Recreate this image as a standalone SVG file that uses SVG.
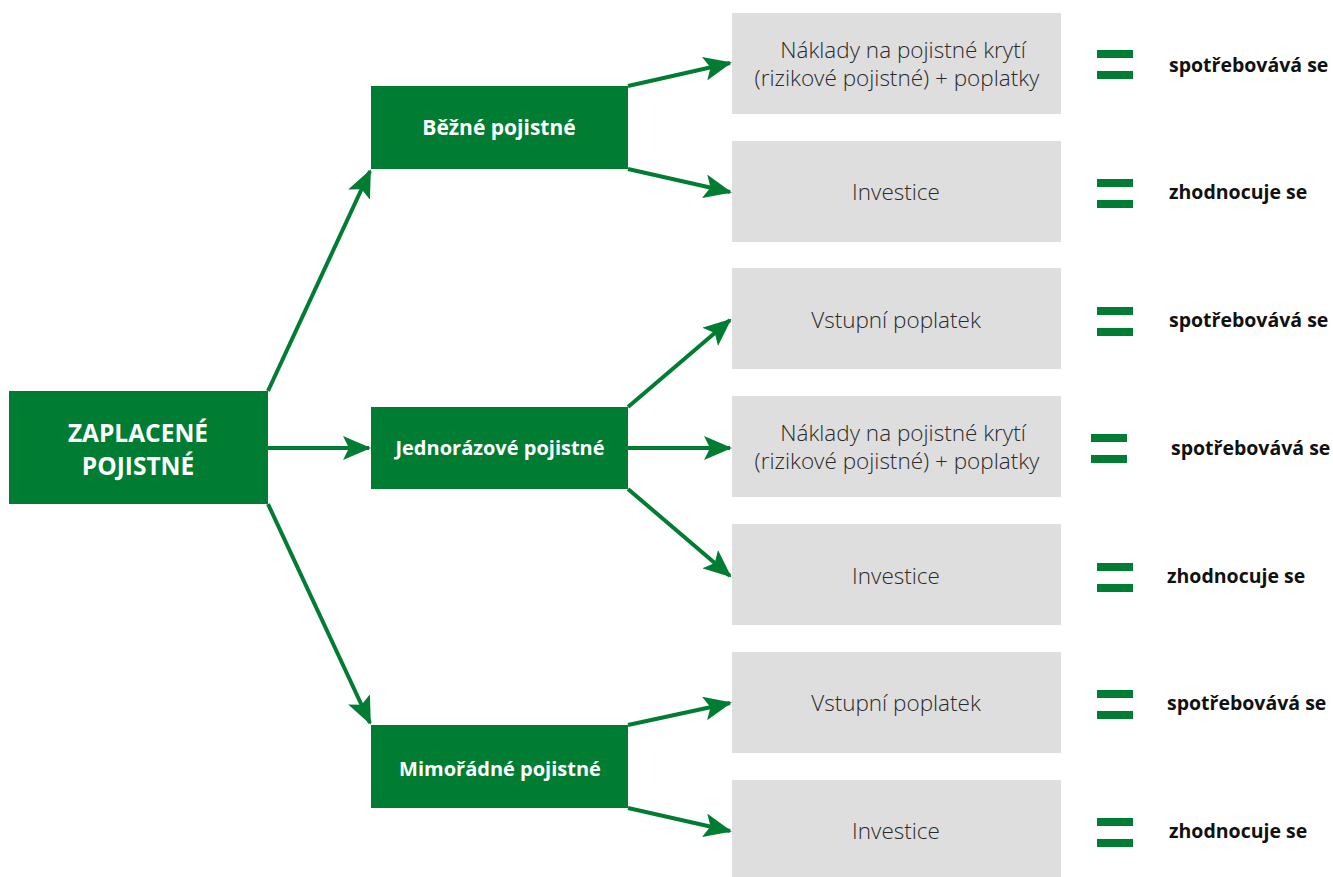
<svg xmlns="http://www.w3.org/2000/svg" width="1333" height="877" viewBox="0 0 1333 877">
<style>
.g{fill:#007d32}
.b{fill:#dedede}
.wt{fill:#fff;font-family:"Open Sans","Noto Sans",sans-serif;font-weight:700;font-size:20px;text-anchor:middle}
.bt{fill:#2a2a2a;font-family:"Open Sans","Noto Sans",sans-serif;font-weight:300;font-size:22.5px;text-anchor:middle}
.rt{fill:#111;font-family:"Open Sans","Noto Sans",sans-serif;font-weight:700;font-size:19.5px}
.c{stroke:#007d32;stroke-width:4;fill:none;marker-end:url(#ah)}
</style>
<defs>
<marker id="ah" markerWidth="7" markerHeight="6" refX="6.5" refY="3" orient="auto" markerUnits="strokeWidth">
<path d="M0,0 L7,3 L0,6 L1.5,3 Z" fill="#007d32"/>
</marker>
<g id="eq"><rect x="0" y="-13" width="36" height="8" class="g"/><rect x="0" y="8" width="36" height="8" class="g"/></g>
</defs>
<rect width="1333" height="877" fill="#fff"/>
<g id="connectors">
<path class="c" d="M268,391 L370,171"/>
<path class="c" d="M268,448 L369,448"/>
<path class="c" d="M268,504 L370,723"/>
<path class="c" d="M628,86 L730,63"/>
<path class="c" d="M628,169 L730,192"/>
<path class="c" d="M628,407 L730,320"/>
<path class="c" d="M628,448 L730,448"/>
<path class="c" d="M628,489 L730,576"/>
<path class="c" d="M628,725 L730,703"/>
<path class="c" d="M628,808 L730,831"/>
</g>
<g id="main"><rect x="9" y="391" width="259" height="113" class="g"/><text class="wt" x="138" y="442" style="font-size:24.5px">ZAPLACENÉ</text><text class="wt" x="138" y="475" style="font-size:24.5px">POJISTNÉ</text></g>
<g id="bezne"><rect x="371" y="86" width="257" height="83" class="g"/><text class="wt" x="499" y="135" style="font-size:21px">Běžné pojistné</text></g>
<g id="jednorazove"><rect x="371" y="407" width="257" height="82" class="g"/><text class="wt" x="500" y="455">Jednorázové pojistné</text></g>
<g id="mimoradne"><rect x="371" y="725" width="257" height="83" class="g"/><text class="wt" x="500" y="776">Mimořádné pojistné</text></g>
<g id="box1"><rect x="732" y="13" width="329" height="101" class="b"/><text class="bt" x="903" y="58">Náklady na pojistné krytí</text><text class="bt" x="897" y="86">(rizikové pojistné) + poplatky</text></g>
<g id="box2"><rect x="732" y="141" width="329" height="101" class="b"/><text class="bt" x="896" y="200">Investice</text></g>
<g id="box3"><rect x="732" y="268" width="329" height="101" class="b"/><text class="bt" x="896" y="328">Vstupní poplatek</text></g>
<g id="box4"><rect x="732" y="396" width="329" height="101" class="b"/><text class="bt" x="903" y="441">Náklady na pojistné krytí</text><text class="bt" x="897" y="469">(rizikové pojistné) + poplatky</text></g>
<g id="box5"><rect x="732" y="524" width="329" height="101" class="b"/><text class="bt" x="896" y="584">Investice</text></g>
<g id="box6"><rect x="732" y="652" width="329" height="101" class="b"/><text class="bt" x="896" y="711">Vstupní poplatek</text></g>
<g id="box7"><rect x="732" y="780" width="329" height="97" class="b"/><text class="bt" x="896" y="839">Investice</text></g>
<g id="res1"><use href="#eq" x="1097" y="63"/><text class="rt" x="1169" y="72">spotřebovává se</text></g>
<g id="res2"><use href="#eq" x="1097" y="192"/><text class="rt" x="1169" y="199">zhodnocuje se</text></g>
<g id="res3"><use href="#eq" x="1097" y="320"/><text class="rt" x="1169" y="327">spotřebovává se</text></g>
<g id="res4"><use href="#eq" x="1091" y="447"/><text class="rt" x="1171" y="455">spotřebovává se</text></g>
<g id="res5"><use href="#eq" x="1097" y="576"/><text class="rt" x="1167" y="583">zhodnocuje se</text></g>
<g id="res6"><use href="#eq" x="1097" y="703"/><text class="rt" x="1167" y="710">spotřebovává se</text></g>
<g id="res7"><use href="#eq" x="1097" y="831"/><text class="rt" x="1169" y="838">zhodnocuje se</text></g>
</svg>
